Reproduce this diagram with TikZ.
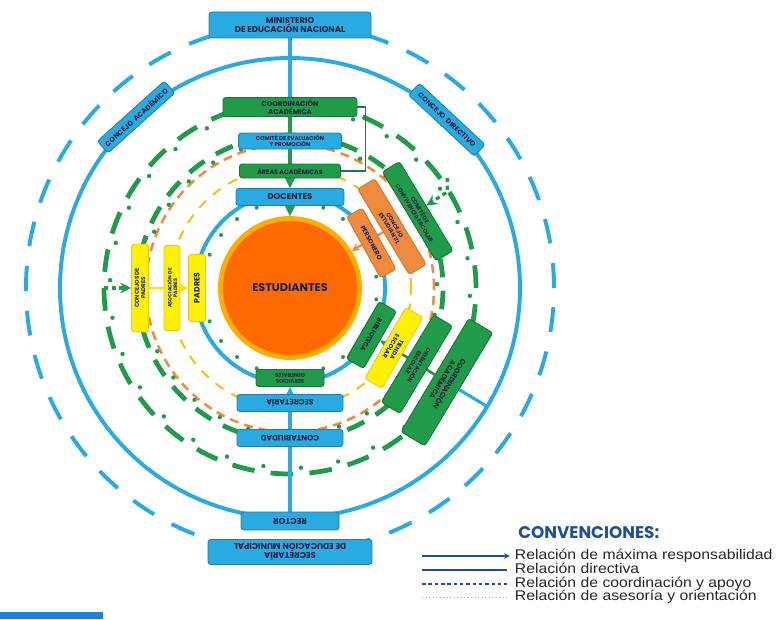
\documentclass[tikz,border=0pt]{standalone}
\usepackage{fontspec}
\setmainfont{Liberation Sans}
\newfontfamily\lblfont{Poppins}
\usepackage{xcolor}
\definecolor{skyblue}{HTML}{29ABE2}
\definecolor{leaf}{HTML}{1F9B4A}
\definecolor{tang}{HTML}{F08A3C}
\definecolor{lemon}{HTML}{FFF200}
\definecolor{gold}{HTML}{F4C01E}
\definecolor{estorange}{HTML}{FF6A00}
\definecolor{estring}{HTML}{FFAE00}
\definecolor{txtdark}{HTML}{14213D}
\definecolor{legblue}{HTML}{1F4E9A}
\definecolor{barblue}{HTML}{1E80D6}
\newcommand{\fsz}[1]{\fontsize{#1}{\fpeval{1.12*#1}}\selectfont}
\pgfdeclarelayer{back}
\pgfsetlayers{back,main}

\begin{document}
\begin{tikzpicture}[x=0.025cm, y=0.025cm, >=stealth,
	cell/.style={rounded corners=2pt, align=center, inner sep=0pt, text=txtdark, line width=0.6pt},
	lbl/.style={font=\lblfont\bfseries\fsz{#1}},
	sz/.style 2 args={minimum width=#1*0.025cm, minimum height=#2*0.025cm},
	bluebox/.style={cell, fill=skyblue, draw=skyblue!75!black},
	greenbox/.style={cell, fill=leaf, draw=leaf!75!black},
	orangebox/.style={cell, fill=tang, draw=tang!85!black},
	yellowbox/.style={cell, fill=lemon, draw=gold},
	ring/.style={skyblue, line width=2.8pt},
	gdash/.style={leaf, line width=3.4pt},
	odash/.style={tang, line width=1.8pt, dash pattern=on 6.4pt off 4.3pt},
	ydash/.style={gold, line width=1.5pt, dash pattern=on 7pt off 6.4pt},
	blueline/.style={skyblue, line width=2.2pt},
	greenline/.style={leaf, line width=2.8pt},
	thinline/.style={leaf!80!black, line width=0.9pt},
	orangeline/.style={tang, line width=1.6pt},
	yellowline/.style={lemon!85!orange, line width=2pt},
	greenarrow/.style={leaf, line width=2.4pt, dash pattern=on 3pt off 2.5pt},
	legline/.style={legblue, line width=0.8pt},
	legtext/.style={anchor=west, font=\fsz{10}\addfontfeature{FakeStretch=1.12}, text=black!85, inner sep=0.5pt, text height=7.2pt, text depth=1.8pt}]
	\useasboundingbox (-290,-331) rectangle (490,288);

	\node[bluebox, sz={162}{26}, lbl=6] (min) at (90:263) {MINISTERIO\\DE EDUCACIÓN NACIONAL};
	\node[bluebox, sz={90}{16}, lbl=5, rotate=42] (cac) at (132:230) {CONCEJO\ \ ACADÉMICO};
	\node[bluebox, sz={90}{16}, lbl=5, rotate=-43] (cdi) at (47:230) {CONCEJO\ \ DIRECTIVO};
	\node[bluebox, sz={98}{18}, lbl=6, rotate=180] (rec) at (-90:233) {RECTOR};
	\node[bluebox, sz={164}{25}, lbl=6, rotate=180] (sem) at (-90:264) {SECRETARÍA\\DE EDUCACIÓN MUNICIPAL};

	\node[greenbox, sz={134}{19}, lbl=5] (coa) at (90:181) {COORDINACIÓN\\ACADÉMICA};
	\node[bluebox, sz={103}{16}, lbl=4] (cep) at (90:147) {COMITÉ DE EVALUACIÓN\\Y PROMOCIÓN};
	\node[greenbox, sz={101}{14}, lbl=4.5] (are) at (90:117) {ÁREAS ACADÉMICAS};
	\node[bluebox, sz={108}{17}, lbl=6] (doc) at (90:91) {DOCENTES};

	\node[circle, fill=estorange, draw=estring, line width=3.5pt, minimum size=139*0.025cm, lbl=8, text=txtdark] (est) at (0,0) {ESTUDIANTES};

	\node[greenbox, sz={104}{20}, lbl=4, rotate=-59] (ccs) at (31:149) {COMITÉ DE\\CONVIVENCIA ESCOLAR};
	\node[orangebox, sz={100}{20}, lbl=4, rotate=-59] (ces) at (31:119) {CONCEJO\\ESTUDIANTIL};
	\node[orangebox, sz={70}{18}, lbl=4.5, rotate=-61] (per) at (29:93) {PERSONERO};
	\node[greenbox, sz={66}{20}, lbl=4.5, rotate=-120] (bib) at (-30:94) {BIBLIOTECA};
	\node[yellowbox, sz={82}{20}, lbl=4.2, rotate=-120] (tie) at (-30:120) {TIENDA\\ESCOLAR};
	\node[greenbox, sz={102}{22}, lbl=4, rotate=-121] (ori) at (-31:148) {ORIENTACIÓN\\ESCOLAR};
	\node[greenbox, sz={132}{28}, lbl=5, rotate=-121] (coa2) at (-31:183) {COORDINACIÓN\\ACADÉMICA};

	\node[greenbox, sz={68}{17}, lbl=3.8, rotate=180] (ser) at (-90:90) {SERVICIOS\\GENERALES};
	\node[bluebox, sz={106}{17}, lbl=5.5, rotate=180] (sec) at (-90:115) {SECRETARÍA};
	\node[bluebox, sz={106}{17}, lbl=5.5, rotate=180] (con) at (-90:150) {CONTABILIDAD};

	\node[yellowbox, sz={67}{17}, lbl=5.5, rotate=90] (pad) at (180:93) {PADRES};
	\node[yellowbox, sz={85}{16}, lbl=3.5, rotate=90] (aso) at (180:118) {ASOCIACIÓN DE\\PADRES};
	\node[yellowbox, sz={88}{17}, lbl=4, rotate=90] (cpa) at (180:150) {CONCEJOS DE\\PADRES};

	\coordinate (gl) at (180:186);
	\coordinate (gr) at (35:192);
	\coordinate (cb) at (-31:230);

	\begin{pgfonlayer}{back}
		\draw[ring, dash pattern=on 17.7pt off 14.2pt] (0,0) circle (264);
		\draw[ring] (0,0) circle (230);
		\draw[ring] (0,0) circle (95);
		\draw[odash] (0,0) circle (144);
		\draw[ydash] (0,0) circle (121);
		\foreach \a in {0,12,...,348}
		{
			\draw[gdash] (\a:186) arc[start angle=\a, end angle=\a+7, radius=186];
			\fill[leaf] ({\a+9.5}:180) circle (2.2);
			\draw[gdash] ({\a+4}:153) arc[start angle=\a+4, end angle=\a+11, radius=153];
			\fill[leaf] ({\a+13.5}:147) circle (2.2);
		}
		\foreach \a in {7.5,22.5,...,352.5}
		{
			\fill[leaf] (\a:87) circle (2);
		}

		\draw[blueline] (min) -- (coa);
		\draw[greenline] (coa) -- (cep) -- (are);
		\draw[greenline, ->] (are.south) -- (doc.north);
		\draw[greenline, ->] (doc.south) -- (est.north);
		\draw[thinline] (coa.east) -- ++(8,0) |- (are.east);
		\draw[orangeline, ->] (ces) -- (est);
		\draw[greenline, line width=2pt, ->] (coa2) -- (bib);
		\draw[blueline] (coa2) -- (cb);
		\draw[blueline, ->] (rec) -- (ser);
		\draw[yellowline, ->] (cpa) -- (pad);
		\draw[greenarrow, ->] (gl) -- (cpa);
		\draw[greenarrow, ->] (gr) -- ++(0,-14) -- (ccs);
	\end{pgfonlayer}

	\node[anchor=west, font=\lblfont\bfseries\fsz{12}, text=legblue, inner sep=0pt] (cv) at (228,-245) {CONVENCIONES:};
	\node[legtext] (l1) at (224,-268) {Relación de máxima responsabilidad};
	\node[legtext] (l2) at (224,-282) {Relación directiva};
	\node[legtext] (l3) at (224,-296) {Relación de coordinación y apoyo};
	\node[legtext] (l4) at (224,-309) {Relación de asesoría y orientación};
	\coordinate (s1) at (132,-268);
	\coordinate (s2) at (132,-282);
	\coordinate (s3) at (132,-296);
	\coordinate (s4) at (132,-309);
	\draw[legline, ->, shorten >=3pt] (s1) -- (l1);
	\draw[legline, shorten >=5pt] (s2) -- (l2);
	\draw[legline, dash pattern=on 2.5pt off 2pt, shorten >=5pt] (s3) -- (l3);
	\draw[legline, legblue!50, line width=0.5pt, dotted, shorten >=5pt] (s4) -- (l4);

	\fill[barblue] (-290,-324) rectangle (-187,-331);
\end{tikzpicture}
\end{document}
